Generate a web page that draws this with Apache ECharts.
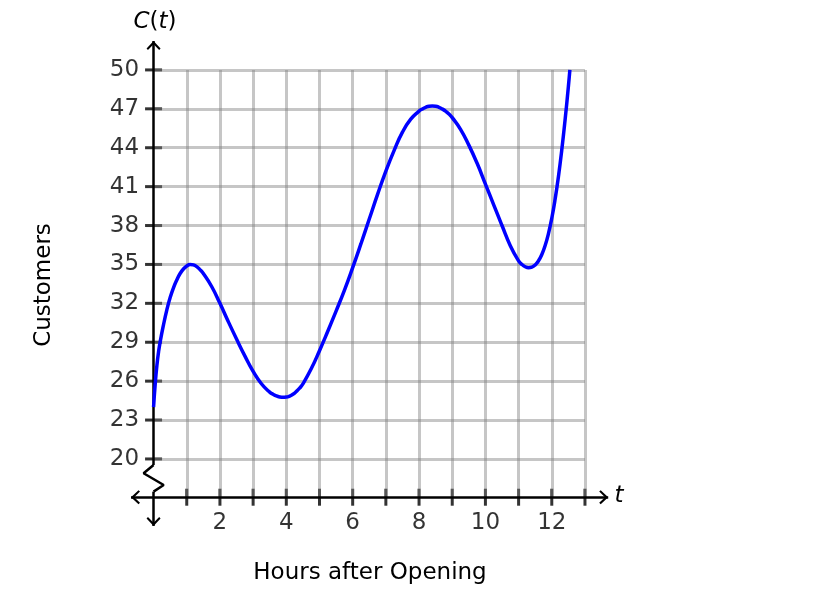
<!DOCTYPE html>
<html><head><meta charset="utf-8">
<script src="https://cdn.jsdelivr.net/npm/echarts@6/dist/echarts.min.js"></script>
<style>html,body{margin:0;padding:0;background:#fff}#c{width:832px;height:592px}</style>
</head><body><div id="c"></div>
<script>
// ---- data ----
const hours = [0, 0.05, 0.1, 0.15, 0.2, 0.3, 0.4, 0.5, 0.6, 0.7, 0.8, 0.9, 1.0, 1.1, 1.2, 1.3, 1.4, 1.5, 1.75, 2.0, 2.25, 2.5, 2.75, 3.0, 3.25, 3.5, 3.6, 3.7, 3.8, 3.9, 4.0, 4.1, 4.2, 4.3, 4.4, 4.5, 4.75, 5.0, 5.25, 5.5, 5.75, 6.0, 6.25, 6.5, 6.75, 7.0, 7.25, 7.5, 7.75, 8.0, 8.1, 8.2, 8.3, 8.4, 8.5, 8.6, 8.7, 8.8, 8.9, 9.0, 9.25, 9.5, 9.75, 10.0, 10.25, 10.5, 10.75, 11.0, 11.1, 11.2, 11.3, 11.4, 11.5, 11.6, 11.7, 11.8, 11.9, 12.0, 12.1, 12.2, 12.3, 12.4, 12.5, 12.545];
const customers = [24.0, 25.8, 27.2, 28.25, 29.05, 30.35, 31.5, 32.45, 33.2, 33.8, 34.3, 34.65, 34.88, 35.0, 34.96, 34.83, 34.6, 34.3, 33.3, 32.0, 30.6, 29.25, 27.95, 26.75, 25.8, 25.15, 24.99, 24.86, 24.78, 24.75, 24.77, 24.85, 24.99, 25.2, 25.46, 25.79, 26.95, 28.35, 29.85, 31.4, 33.0, 34.75, 36.6, 38.5, 40.4, 42.2, 43.8, 45.2, 46.2, 46.82, 46.99, 47.12, 47.2, 47.22, 47.2, 47.12, 46.99, 46.82, 46.6, 46.32, 45.42, 44.2, 42.8, 41.2, 39.6, 38.0, 36.45, 35.28, 35.0, 34.82, 34.75, 34.79, 34.96, 35.28, 35.77, 36.46, 37.38, 38.56, 40.02, 41.77, 43.81, 46.13, 48.71, 50.0];
const xTicks = [1,2,3,4,5,6,7,8,9,10,11,12,13];
const xTickLabels = [2,4,6,8,10,12];
const yTicks = [20,23,26,29,32,35,38,41,44,47,50];
const xAxisTitle = 'Hours after Opening';
const yAxisTitle = 'Customers';

// ---- layout constants ----
const X_MIN = -0.68, X_MAX = 13.7, Y_MIN = 14.83, Y_MAX = 52.23;
const AXIS_Y = 17.05;
const GRID_X_END = 13, GRID_Y_END = 50;
const BREAK_TOP = 19.54, BREAK_BOTTOM = 17.48;
const zigzag = [[0, BREAK_TOP], [-0.3, 18.9], [0.305, 17.99], [0, BREAK_BOTTOM]];
const ARROW = 'path://M7,0 L14,7.5 L12.6,9 L7,3.2 L1.4,9 L0,7.5 Z M7,-9 L7,-9 Z';
const FONT = 'DejaVu Sans';
const FS = 23;

const chart = echarts.init(document.getElementById('c'));

const gridLines = [];
xTicks.forEach(v => gridLines.push([{coord: [v, AXIS_Y]}, {coord: [v, GRID_Y_END]}]));
yTicks.forEach(v => gridLines.push([{coord: [0, v]}, {coord: [GRID_X_END, v]}]));

const arrowEnd = (c) => ({coord: c, symbol: ARROW, symbolSize: [14, 18]});
const txt = (o) => Object.assign({fontSize: FS, fontFamily: FONT, fill: '#000', textAlign: 'center', textVerticalAlign: 'middle', align: 'center', verticalAlign: 'middle'}, o);

chart.setOption({
  animation: false,
  grid: {left: 131, width: 477.2, top: 41, height: 485},
  xAxis: {type: 'value', min: X_MIN, max: X_MAX, show: false},
  yAxis: {type: 'value', min: Y_MIN, max: Y_MAX, show: false},
  graphic: [
    {type: 'text', x: 155, y: 22, style: txt({text: '{i|C}({i|t})', rich: {i: {fontStyle: 'italic', fontSize: FS, fontFamily: FONT, fill: '#000'}}})},
    {type: 'text', x: 619, y: 496, style: txt({text: 't', fontStyle: 'italic'})},
    {type: 'text', x: 370, y: 573, style: txt({text: xAxisTitle})},
    {type: 'text', x: 44, y: 285, rotation: Math.PI / 2, style: txt({text: yAxisTitle})}
  ],
  series: [
    { // grid lines
      type: 'line', data: [[0, 20]], symbol: 'none', lineStyle: {opacity: 0}, silent: true, z: 1,
      markLine: {silent: true, symbol: ['none', 'none'], label: {show: false},
        lineStyle: {color: 'rgba(128,128,128,0.45)', width: 3, type: 'solid'},
        emphasis: {disabled: true}, data: gridLines}
    },
    { // axes lines with arrows
      type: 'line', data: zigzag, symbol: 'none', silent: true, z: 3,
      lineStyle: {color: '#000', width: 2.5},
      markLine: {silent: true, symbol: ['none', 'none'], symbolSize: 10, label: {show: false},
        lineStyle: {color: '#000', width: 2.5, type: 'solid'}, emphasis: {disabled: true},
        data: [
          [arrowEnd([X_MIN, AXIS_Y]), arrowEnd([X_MAX, AXIS_Y])],
          [{coord: [0, BREAK_TOP]}, arrowEnd([0, Y_MAX])],
          [{coord: [0, BREAK_BOTTOM]}, arrowEnd([0, Y_MIN])]
        ]}
    },
    { // x ticks
      type: 'scatter', silent: true, z: 3, symbol: 'rect', symbolSize: [3, 17],
      itemStyle: {color: '#000'}, data: xTicks.map(v => [v, AXIS_Y])
    },
    { // y ticks
      type: 'scatter', silent: true, z: 3, symbol: 'rect', symbolSize: [17, 3],
      itemStyle: {color: '#000'}, data: yTicks.map(v => [0, v])
    },
    { // x tick labels
      type: 'scatter', silent: true, z: 3, symbolSize: 1, itemStyle: {color: 'rgba(0,0,0,0)'},
      data: xTickLabels.map(v => [v, AXIS_Y]),
      label: {show: true, position: 'bottom', distance: 13.5, formatter: p => String(p.value[0]), fontSize: FS, fontFamily: FONT, color: '#000'}
    },
    { // y tick labels
      type: 'scatter', silent: true, z: 3, symbolSize: 1, itemStyle: {color: 'rgba(0,0,0,0)'},
      data: yTicks.map(v => [0, v]),
      label: {show: true, position: 'left', distance: 14, formatter: p => String(p.value[1]), fontSize: FS, fontFamily: FONT, color: '#000'}
    },
    { // curve
      type: 'line', name: 'C(t)', silent: true, z: 5, symbol: 'none', smooth: 0.5, clip: false,
      lineStyle: {color: '#0000ff', width: 3.5},
      data: hours.map((h, i) => [h, customers[i]])
    }
  ]
});
</script>
</body></html>
